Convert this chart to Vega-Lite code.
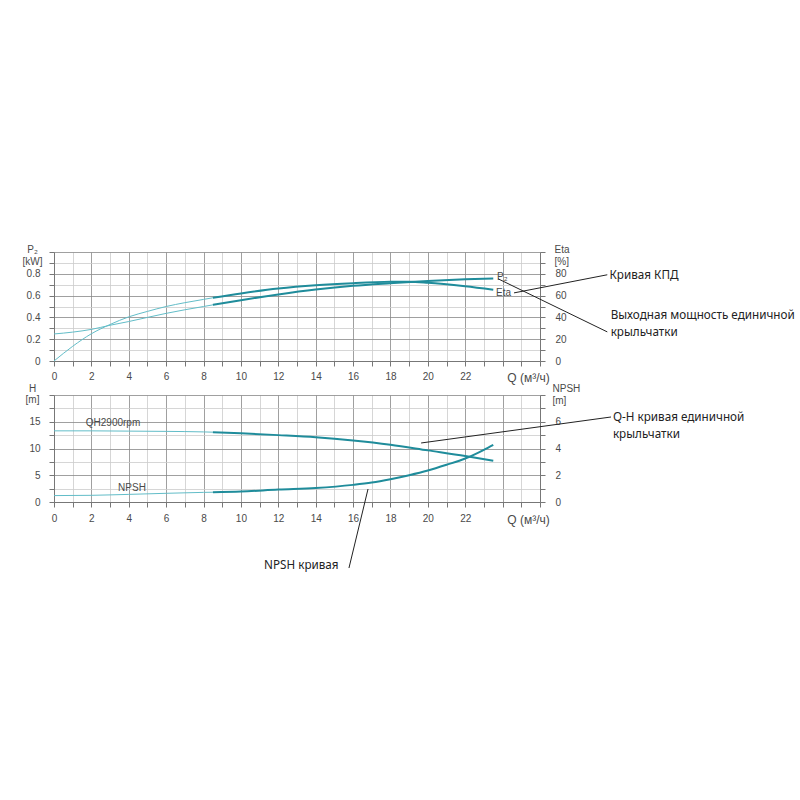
{
  "$schema": "https://vega.github.io/schema/vega-lite/v6.json",
  "padding": {"left": 22, "top": 244, "right": 5, "bottom": 5},
  "background": "white",
  "config": {"view": {"stroke": null}},
  "datasets": {
    "p2": [
      {"Q": 0, "P2": 0.248, "part": "thin"}, {"Q": 1, "P2": 0.265, "part": "thin"}, {"Q": 2, "P2": 0.29, "part": "thin"},
      {"Q": 3, "P2": 0.328, "part": "thin"}, {"Q": 4, "P2": 0.362, "part": "thin"}, {"Q": 5, "P2": 0.4, "part": "thin"},
      {"Q": 6, "P2": 0.437, "part": "thin"}, {"Q": 7, "P2": 0.47, "part": "thin"}, {"Q": 8, "P2": 0.5, "part": "thin"},
      {"Q": 8.5, "P2": 0.515, "part": "thin"},
      {"Q": 8.5, "P2": 0.515, "part": "thick"}, {"Q": 10, "P2": 0.558, "part": "thick"}, {"Q": 12, "P2": 0.61, "part": "thick"},
      {"Q": 14, "P2": 0.655, "part": "thick"}, {"Q": 16, "P2": 0.69, "part": "thick"}, {"Q": 18, "P2": 0.714, "part": "thick"},
      {"Q": 20, "P2": 0.735, "part": "thick"}, {"Q": 22, "P2": 0.75, "part": "thick"}, {"Q": 23.5, "P2": 0.757, "part": "thick"}
    ],
    "eta": [
      {"Q": 0, "Eta": 0, "part": "thin"}, {"Q": 1, "Eta": 13.5, "part": "thin"}, {"Q": 2, "Eta": 25, "part": "thin"},
      {"Q": 3, "Eta": 33.5, "part": "thin"}, {"Q": 4, "Eta": 40.5, "part": "thin"}, {"Q": 5, "Eta": 45.5, "part": "thin"},
      {"Q": 6, "Eta": 50, "part": "thin"}, {"Q": 7, "Eta": 53.5, "part": "thin"}, {"Q": 8, "Eta": 56.5, "part": "thin"},
      {"Q": 8.5, "Eta": 58, "part": "thin"},
      {"Q": 8.5, "Eta": 58, "part": "thick"}, {"Q": 10, "Eta": 62, "part": "thick"}, {"Q": 12, "Eta": 66.5, "part": "thick"},
      {"Q": 14, "Eta": 69.5, "part": "thick"}, {"Q": 16, "Eta": 71.4, "part": "thick"}, {"Q": 18, "Eta": 72.6, "part": "thick"},
      {"Q": 19, "Eta": 72.7, "part": "thick"}, {"Q": 20, "Eta": 71.8, "part": "thick"}, {"Q": 22, "Eta": 68.5, "part": "thick"},
      {"Q": 23.5, "Eta": 65.3, "part": "thick"}
    ],
    "qh": [
      {"Q": 0, "H": 13.3, "part": "thin"}, {"Q": 2, "H": 13.3, "part": "thin"}, {"Q": 4, "H": 13.25, "part": "thin"},
      {"Q": 6, "H": 13.2, "part": "thin"}, {"Q": 8, "H": 13.1, "part": "thin"}, {"Q": 8.5, "H": 13.05, "part": "thin"},
      {"Q": 8.5, "H": 13.05, "part": "thick"}, {"Q": 10, "H": 12.85, "part": "thick"}, {"Q": 12, "H": 12.5, "part": "thick"},
      {"Q": 14, "H": 12.1, "part": "thick"}, {"Q": 16, "H": 11.5, "part": "thick"}, {"Q": 18, "H": 10.7, "part": "thick"},
      {"Q": 20, "H": 9.65, "part": "thick"}, {"Q": 22, "H": 8.6, "part": "thick"}, {"Q": 23.5, "H": 7.7, "part": "thick"}
    ],
    "npsh": [
      {"Q": 0, "NPSH": 0.48, "part": "thin"}, {"Q": 2, "NPSH": 0.5, "part": "thin"}, {"Q": 4, "NPSH": 0.57, "part": "thin"},
      {"Q": 6, "NPSH": 0.65, "part": "thin"}, {"Q": 8, "NPSH": 0.72, "part": "thin"}, {"Q": 8.5, "NPSH": 0.73, "part": "thin"},
      {"Q": 8.5, "NPSH": 0.73, "part": "thick"}, {"Q": 10, "NPSH": 0.78, "part": "thick"}, {"Q": 12, "NPSH": 0.93, "part": "thick"},
      {"Q": 14, "NPSH": 1.05, "part": "thick"}, {"Q": 16, "NPSH": 1.28, "part": "thick"}, {"Q": 17, "NPSH": 1.45, "part": "thick"},
      {"Q": 18, "NPSH": 1.7, "part": "thick"}, {"Q": 19, "NPSH": 2.0, "part": "thick"}, {"Q": 20, "NPSH": 2.35, "part": "thick"},
      {"Q": 21, "NPSH": 2.78, "part": "thick"}, {"Q": 22, "NPSH": 3.25, "part": "thick"}, {"Q": 23, "NPSH": 3.9, "part": "thick"},
      {"Q": 23.5, "NPSH": 4.27, "part": "thick"}
    ],
    "topLabels": [
      {"Q": 23.7, "v": 0.772, "text": "P₂"},
      {"Q": 23.65, "v": 0.625, "text": "Eta"}
    ],
    "topNotes": [
      {"Q1": 24.61, "v1": 0.625, "Q2": 29.6, "v2": 0.791},
      {"Q1": 23.76, "v1": 0.754, "Q2": 29.6, "v2": 0.267}
    ],
    "topNoteText": [
      {"Q": 29.72, "v": 0.791, "text": "Кривая КПД"},
      {"Q": 29.78, "v": 0.423, "text": "Выходная мощность единичной"},
      {"Q": 29.78, "v": 0.27, "text": "крыльчатки"}
    ],
    "bottomLabels": [
      {"Q": 1.7, "v": 14.83, "text": "QH2900rpm"},
      {"Q": 3.43, "v": 2.56, "text": "NPSH"}
    ],
    "bottomNotes": [
      {"Q1": 19.64, "v1": 11.03, "Q2": 29.8, "v2": 15.89},
      {"Q1": 16.8, "v1": 2.43, "Q2": 15.78, "v2": -12.34}
    ],
    "bottomNoteText": [
      {"Q": 29.9, "v": 15.94, "text": "Q-H кривая единичной"},
      {"Q": 29.9, "v": 12.65, "text": "крыльчатки"},
      {"Q": 11.24, "v": -11.78, "text": "NPSH кривая"}
    ]
  },
  "vconcat": [
    {
      "width": 486,
      "height": 109,
      "layer": [
        {
          "data": {"name": "p2"},
          "mark": {"type": "line", "interpolate": "monotone"},
          "encoding": {
            "x": {"field": "Q", "type": "quantitative", "scale": {"domain": [0, 26], "nice": false, "zero": false},
              "axis": {"values": [0,1,2,3,4,5,6,7,8,9,10,11,12,13,14,15,16,17,18,19,20,21,22,23,24,25,26],
                "labelExpr": "datum.value % 2 == 0 && datum.value <= 22 ? datum.label : ''",
                "labelFlush": false, "labelOverlap": false, "grid": true,
                "gridColor": {"condition": {"test": "datum.value % 2 == 0", "value": "#888888"}, "value": "#cccccc"},
                "gridWidth": 0.8, "tickSize": 5, "tickColor": "#777", "domainColor": "#777",
                "labelPadding": 5, "labelFont": "Liberation Sans", "labelFontSize": 10, "labelColor": "#4a4a4a",
                "title": "Q (м³/ч)", "titleX": 474, "titleY": 16, "titleAlign": "center", "titleBaseline": "middle",
                "titleFont": "Liberation Sans", "titleFontSize": 12, "titleFontWeight": "normal", "titleColor": "#4a4a4a"}},
            "y": {"field": "P2", "type": "quantitative", "scale": {"domain": [0, 1], "nice": false, "zero": false},
              "axis": {"orient": "left", "values": [0,0.1,0.2,0.3,0.4,0.5,0.6,0.7,0.8,0.9,1],
                "format": "~g",
                "labelExpr": "(round(datum.value*10) % 2 == 0 && datum.value < 0.95) ? datum.label : ''",
                "labelFlush": false, "labelOverlap": false, "grid": true,
                "gridColor": {"condition": {"test": "round(datum.value*10) % 2 == 0", "value": "#888888"}, "value": "#cccccc"},
                "gridWidth": 0.8, "tickSize": 5, "tickColor": "#777", "domainColor": "#777",
                "labelPadding": 9, "labelFont": "Liberation Sans", "labelFontSize": 10, "labelColor": "#4a4a4a",
                "title": ["P₂", "[kW]"], "titleAngle": 0, "titleX": -22, "titleY": -8, "titleAlign": "center",
                "titleBaseline": "top", "titleLineHeight": 12, "titleFont": "Liberation Sans", "titleFontSize": 10,
                "titleFontWeight": "normal", "titleColor": "#4a4a4a"}},
            "color": {"field": "part", "type": "nominal", "scale": {"domain": ["thin", "thick"], "range": ["#62bdc8", "#1f8c9b"]}, "legend": null},
            "strokeWidth": {"field": "part", "type": "ordinal", "scale": {"domain": ["thin", "thick"], "range": [1, 2]}, "legend": null}
          }
        },
        {
          "data": {"name": "eta"},
          "mark": {"type": "line", "interpolate": "monotone"},
          "encoding": {
            "x": {"field": "Q", "type": "quantitative", "scale": {"domain": [0, 26], "nice": false}, "axis": null},
            "y": {"field": "Eta", "type": "quantitative", "scale": {"domain": [0, 100], "nice": false, "zero": false},
              "axis": {"orient": "right", "values": [0,10,20,30,40,50,60,70,80,90,100],
                "labelExpr": "(datum.value % 20 == 0 && datum.value < 90) ? datum.label : ''",
                "labelFlush": false, "labelOverlap": false, "grid": false,
                "tickSize": 5, "tickColor": "#777", "domainColor": "#777",
                "labelPadding": 10, "labelFont": "Liberation Sans", "labelFontSize": 10, "labelColor": "#4a4a4a",
                "title": ["Eta", "[%]"], "titleAngle": 0, "titleX": 14, "titleY": -8, "titleAlign": "left",
                "titleBaseline": "top", "titleLineHeight": 12, "titleFont": "Liberation Sans", "titleFontSize": 10,
                "titleFontWeight": "normal", "titleColor": "#4a4a4a"}},
            "color": {"field": "part", "type": "nominal", "scale": {"domain": ["thin", "thick"], "range": ["#62bdc8", "#1f8c9b"]}, "legend": null},
            "strokeWidth": {"field": "part", "type": "ordinal", "scale": {"domain": ["thin", "thick"], "range": [1, 2]}, "legend": null}
          }
        },
        {
          "data": {"name": "topLabels"},
          "mark": {"type": "text", "align": "left", "baseline": "middle", "font": "Liberation Sans", "fontSize": 10, "color": "#4a4a4a"},
          "encoding": {
            "x": {"field": "Q", "type": "quantitative", "scale": {"domain": [0, 26], "nice": false}, "axis": null},
            "y": {"field": "v", "type": "quantitative", "scale": {"domain": [0, 1], "nice": false}, "axis": null},
            "text": {"field": "text"}
          }
        },
        {
          "data": {"name": "topNotes"},
          "mark": {"type": "rule", "color": "#222", "strokeWidth": 1},
          "encoding": {
            "x": {"field": "Q1", "type": "quantitative", "scale": {"domain": [0, 26], "nice": false}, "axis": null},
            "y": {"field": "v1", "type": "quantitative", "scale": {"domain": [0, 1], "nice": false}, "axis": null},
            "x2": {"field": "Q2"},
            "y2": {"field": "v2"}
          }
        },
        {
          "data": {"name": "topNoteText"},
          "mark": {"type": "text", "align": "left", "baseline": "middle", "font": "Noto Sans", "fontSize": 11.7, "color": "#222"},
          "encoding": {
            "x": {"field": "Q", "type": "quantitative", "scale": {"domain": [0, 26], "nice": false}, "axis": null},
            "y": {"field": "v", "type": "quantitative", "scale": {"domain": [0, 1], "nice": false}, "axis": null},
            "text": {"field": "text"}
          }
        }
      ],
      "resolve": {"scale": {"y": "independent"}, "axis": {"x": "independent"}}
    },
    {
      "width": 486,
      "height": 107,
      "layer": [
        {
          "data": {"name": "qh"},
          "mark": {"type": "line", "interpolate": "monotone"},
          "encoding": {
            "x": {"field": "Q", "type": "quantitative", "scale": {"domain": [0, 26], "nice": false, "zero": false},
              "axis": {"values": [0,1,2,3,4,5,6,7,8,9,10,11,12,13,14,15,16,17,18,19,20,21,22,23,24,25,26],
                "labelExpr": "datum.value % 2 == 0 && datum.value <= 22 ? datum.label : ''",
                "labelFlush": false, "labelOverlap": false, "grid": true,
                "gridColor": {"condition": {"test": "datum.value % 2 == 0", "value": "#888888"}, "value": "#cccccc"},
                "gridWidth": 0.8, "tickSize": 5, "tickColor": "#777", "domainColor": "#777",
                "labelPadding": 6, "labelFont": "Liberation Sans", "labelFontSize": 10, "labelColor": "#4a4a4a",
                "title": "Q (м³/ч)", "titleX": 474, "titleY": 17, "titleAlign": "center", "titleBaseline": "middle",
                "titleFont": "Liberation Sans", "titleFontSize": 12, "titleFontWeight": "normal", "titleColor": "#4a4a4a"}},
            "y": {"field": "H", "type": "quantitative", "scale": {"domain": [0, 20], "nice": false, "zero": false},
              "axis": {"orient": "left", "values": [0,2.5,5,7.5,10,12.5,15,17.5,20],
                "labelExpr": "(datum.value % 5 == 0 && datum.value < 20) ? datum.label : ''",
                "labelFlush": false, "labelOverlap": false, "grid": true,
                "gridColor": {"condition": {"test": "datum.value % 5 == 0", "value": "#888888"}, "value": "#cccccc"},
                "gridWidth": 0.8, "tickSize": 5, "tickColor": "#777", "domainColor": "#777",
                "labelPadding": 9, "labelFont": "Liberation Sans", "labelFontSize": 10, "labelColor": "#4a4a4a",
                "title": ["H", "[m]"], "titleAngle": 0, "titleX": -22, "titleY": -12, "titleAlign": "center",
                "titleBaseline": "top", "titleLineHeight": 11, "titleFont": "Liberation Sans", "titleFontSize": 10,
                "titleFontWeight": "normal", "titleColor": "#4a4a4a"}},
            "color": {"field": "part", "type": "nominal", "scale": {"domain": ["thin", "thick"], "range": ["#62bdc8", "#1f8c9b"]}, "legend": null},
            "strokeWidth": {"field": "part", "type": "ordinal", "scale": {"domain": ["thin", "thick"], "range": [1, 2]}, "legend": null}
          }
        },
        {
          "data": {"name": "npsh"},
          "mark": {"type": "line", "interpolate": "monotone"},
          "encoding": {
            "x": {"field": "Q", "type": "quantitative", "scale": {"domain": [0, 26], "nice": false}, "axis": null},
            "y": {"field": "NPSH", "type": "quantitative", "scale": {"domain": [0, 8], "nice": false, "zero": false},
              "axis": {"orient": "right", "values": [0,1,2,3,4,5,6,7,8],
                "labelExpr": "(datum.value % 2 == 0 && datum.value < 8) ? datum.label : ''",
                "labelFlush": false, "labelOverlap": false, "grid": false,
                "tickSize": 5, "tickColor": "#777", "domainColor": "#777",
                "labelPadding": 10, "labelFont": "Liberation Sans", "labelFontSize": 10, "labelColor": "#4a4a4a",
                "title": ["NPSH", "[m]"], "titleAngle": 0, "titleX": 12, "titleY": -12, "titleAlign": "left",
                "titleBaseline": "top", "titleLineHeight": 12, "titleFont": "Liberation Sans", "titleFontSize": 10,
                "titleFontWeight": "normal", "titleColor": "#4a4a4a"}},
            "color": {"field": "part", "type": "nominal", "scale": {"domain": ["thin", "thick"], "range": ["#62bdc8", "#1f8c9b"]}, "legend": null},
            "strokeWidth": {"field": "part", "type": "ordinal", "scale": {"domain": ["thin", "thick"], "range": [1, 2]}, "legend": null}
          }
        },
        {
          "data": {"name": "bottomLabels"},
          "mark": {"type": "text", "align": "left", "baseline": "middle", "font": "Liberation Sans", "fontSize": 10, "color": "#4a4a4a"},
          "encoding": {
            "x": {"field": "Q", "type": "quantitative", "scale": {"domain": [0, 26], "nice": false}, "axis": null},
            "y": {"field": "v", "type": "quantitative", "scale": {"domain": [0, 20], "nice": false}, "axis": null},
            "text": {"field": "text"}
          }
        },
        {
          "data": {"name": "bottomNotes"},
          "mark": {"type": "rule", "color": "#222", "strokeWidth": 1},
          "encoding": {
            "x": {"field": "Q1", "type": "quantitative", "scale": {"domain": [0, 26], "nice": false}, "axis": null},
            "y": {"field": "v1", "type": "quantitative", "scale": {"domain": [0, 20], "nice": false}, "axis": null},
            "x2": {"field": "Q2"},
            "y2": {"field": "v2"}
          }
        },
        {
          "data": {"name": "bottomNoteText"},
          "mark": {"type": "text", "align": "left", "baseline": "middle", "font": "Noto Sans", "fontSize": 11.7, "color": "#222"},
          "encoding": {
            "x": {"field": "Q", "type": "quantitative", "scale": {"domain": [0, 26], "nice": false}, "axis": null},
            "y": {"field": "v", "type": "quantitative", "scale": {"domain": [0, 20], "nice": false}, "axis": null},
            "text": {"field": "text"}
          }
        }
      ],
      "resolve": {"scale": {"y": "independent"}, "axis": {"x": "independent"}}
    }
  ],
  "spacing": 34,
  "bounds": "flush"
}
